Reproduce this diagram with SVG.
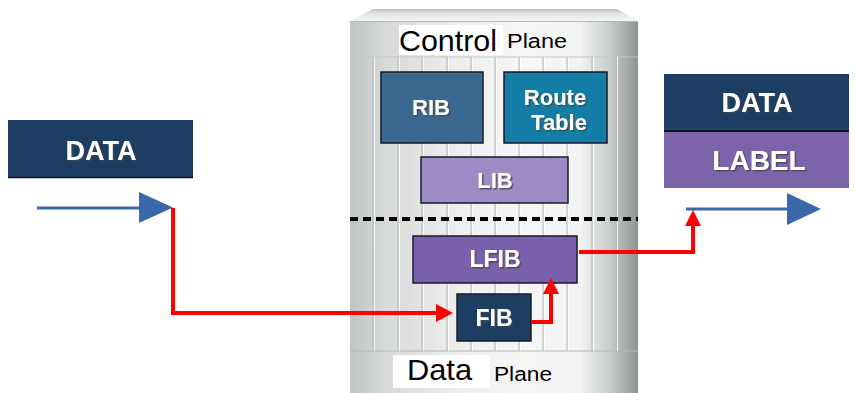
<svg xmlns="http://www.w3.org/2000/svg" width="855" height="393" viewBox="0 0 855 393">
  <defs>
    <linearGradient id="body" x1="350" y1="0" x2="638" y2="0" gradientUnits="userSpaceOnUse">
      <stop offset="0" stop-color="#bfc4c3"/>
      <stop offset="0.12" stop-color="#d6d9d8"/>
      <stop offset="0.35" stop-color="#ececec"/>
      <stop offset="0.6" stop-color="#f7f7f7"/>
      <stop offset="0.8" stop-color="#f2f3f3"/>
      <stop offset="0.9" stop-color="#c9cdcc"/>
      <stop offset="1" stop-color="#8c9492"/>
    </linearGradient>
    <linearGradient id="cap" x1="0" y1="9" x2="0" y2="21" gradientUnits="userSpaceOnUse">
      <stop offset="0" stop-color="#bcbfbf"/>
      <stop offset="0.4" stop-color="#e4e6e6"/>
      <stop offset="1" stop-color="#f4f4f4"/>
    </linearGradient>
    <filter id="shadow" x="-20%" y="-20%" width="140%" height="140%">
      <feDropShadow dx="1.5" dy="1.5" stdDeviation="0.7" flood-color="#444" flood-opacity="0.8"/>
    </filter>
  </defs>
  <style>
    .box { stroke: #1a1a28; stroke-width: 1.5; }
    .lbl { font-family: "Liberation Sans", Arial, sans-serif; font-weight: bold; fill: #ffffff; text-anchor: middle; filter: url(#shadow); }
    .plane { font-family: "Liberation Sans", Arial, sans-serif; fill: #000000; }
    .col { stroke: #b9bebd; stroke-width: 1.2; }
    .colhi { stroke: #ffffff; stroke-width: 1; opacity: 0.8; }
    .red { fill: none; stroke: #ff0000; stroke-width: 4; stroke-linejoin: miter; }
    .blue { fill: none; stroke: #3b68a9; stroke-width: 3; }
  </style>

  <rect width="855" height="393" fill="#ffffff"/>

  <!-- Router chassis -->
  <g id="chassis">
    <polygon points="373,9 617,9 638,21 350,21" fill="url(#cap)"/>
    <rect x="350" y="21" width="288" height="372" fill="url(#body)"/>
    <line x1="350" y1="21.5" x2="638" y2="21.5" stroke="#b5b9b8" stroke-width="1"/>
    <line x1="350" y1="57" x2="638" y2="57" stroke="#c4c8c7" stroke-width="1"/>
    <line x1="350" y1="351" x2="638" y2="351" stroke="#b4b8b7" stroke-width="1.2"/>
    <g id="columns">
      <line class="col" x1="373" y1="57" x2="373" y2="351"/>
      <line class="col" x1="398" y1="57" x2="398" y2="351"/>
      <line class="col" x1="422" y1="57" x2="422" y2="351"/>
      <line class="col" x1="447" y1="57" x2="447" y2="351"/>
      <line class="col" x1="471" y1="57" x2="471" y2="351"/>
      <line class="col" x1="495" y1="57" x2="495" y2="351"/>
      <line class="col" x1="519" y1="57" x2="519" y2="351"/>
      <line class="col" x1="543" y1="57" x2="543" y2="351"/>
      <line class="col" x1="567" y1="57" x2="567" y2="351"/>
      <line class="col" x1="592" y1="57" x2="592" y2="351"/>
      <line class="col" x1="616" y1="57" x2="616" y2="351"/>
      <line class="colhi" x1="374.5" y1="57" x2="374.5" y2="351"/>
      <line class="colhi" x1="399.5" y1="57" x2="399.5" y2="351"/>
      <line class="colhi" x1="423.5" y1="57" x2="423.5" y2="351"/>
      <line class="colhi" x1="448.5" y1="57" x2="448.5" y2="351"/>
      <line class="colhi" x1="472.5" y1="57" x2="472.5" y2="351"/>
      <line class="colhi" x1="496.5" y1="57" x2="496.5" y2="351"/>
      <line class="colhi" x1="520.5" y1="57" x2="520.5" y2="351"/>
      <line class="colhi" x1="544.5" y1="57" x2="544.5" y2="351"/>
      <line class="colhi" x1="568.5" y1="57" x2="568.5" y2="351"/>
      <line class="colhi" x1="593.5" y1="57" x2="593.5" y2="351"/>
      <line class="colhi" x1="617.5" y1="57" x2="617.5" y2="351"/>
    </g>
    <!-- plane separator -->
    <line x1="350" y1="219" x2="638" y2="219" stroke="#000000" stroke-width="4" stroke-dasharray="8 5"/>
  </g>

  <g id="control-plane-title">
    <rect x="399" y="25" width="104" height="30" fill="#ffffff"/>
    <text class="plane" x="399" y="51" font-size="30" textLength="98" lengthAdjust="spacingAndGlyphs">Control</text>
    <text class="plane" x="507" y="48" font-size="20" textLength="60" lengthAdjust="spacingAndGlyphs">Plane</text>
  </g>

  <g id="data-plane-title">
    <rect x="393" y="355" width="97" height="33" fill="#ffffff"/>
    <text class="plane" x="407" y="380" font-size="30" textLength="65" lengthAdjust="spacingAndGlyphs">Data</text>
    <text class="plane" x="494" y="381" font-size="20" textLength="58" lengthAdjust="spacingAndGlyphs">Plane</text>
  </g>

  <!-- Tables -->
  <g id="rib">
    <rect class="box" x="381" y="72" width="102" height="71" fill="#3b6891"/>
    <text class="lbl" x="431" y="115" font-size="22">RIB</text>
  </g>
  <g id="route-table">
    <rect class="box" x="504" y="72" width="103" height="71" fill="#127ea6"/>
    <text class="lbl" x="555" y="105" font-size="22">Route</text>
    <text class="lbl" x="559" y="130" font-size="22">Table</text>
  </g>
  <g id="lib">
    <rect class="box" x="421" y="157" width="147" height="46" fill="#9c8bc5"/>
    <text class="lbl" x="495" y="188" font-size="22">LIB</text>
  </g>
  <g id="lfib">
    <rect class="box" x="413" y="236" width="164" height="47" fill="#7a60aa"/>
    <text class="lbl" x="495" y="267" font-size="23">LFIB</text>
  </g>
  <g id="fib">
    <rect class="box" x="457" y="294" width="74" height="47" fill="#1d3e62"/>
    <text class="lbl" x="494" y="326" font-size="23">FIB</text>
  </g>

  <!-- Packets -->
  <g id="packet-in">
    <rect x="8" y="120" width="185" height="58" fill="#1d3e62"/>
    <line x1="8" y1="177.5" x2="193" y2="177.5" stroke="#0b1420" stroke-width="1.5"/>
    <text class="lbl" x="101" y="160" font-size="27">DATA</text>
  </g>
  <g id="packet-out">
    <rect x="664" y="74" width="185" height="57" fill="#1d3e62"/>
    <line x1="664" y1="131" x2="849" y2="131" stroke="#0b1420" stroke-width="2"/>
    <rect x="664" y="132" width="185" height="56" fill="#7b64aa"/>
    <text class="lbl" x="757" y="112" font-size="27">DATA</text>
    <text class="lbl" x="759" y="170" font-size="28">LABEL</text>
  </g>

  <!-- Connectors -->
  <g id="connectors">
    <line class="blue" x1="37" y1="208" x2="142" y2="208"/>
    <polygon points="139,192 173,207.5 139,223" fill="#3b68a9"/>
    <line class="blue" x1="686" y1="209" x2="790" y2="209"/>
    <polygon points="787,193 821,209 787,225" fill="#3b68a9"/>

    <polyline class="red" points="173,208 173,313 438,313"/>
    <polygon points="436,304 453,313 436,322" fill="#ff0000"/>
    <polyline class="red" points="531,322 551,322 551,292"/>
    <polygon points="543,294 551,278 559,294" fill="#ff0000"/>
    <polyline class="red" points="579,252 693,252 693,223"/>
    <polygon points="685,226 693,210 701,226" fill="#ff0000"/>
  </g>
</svg>
